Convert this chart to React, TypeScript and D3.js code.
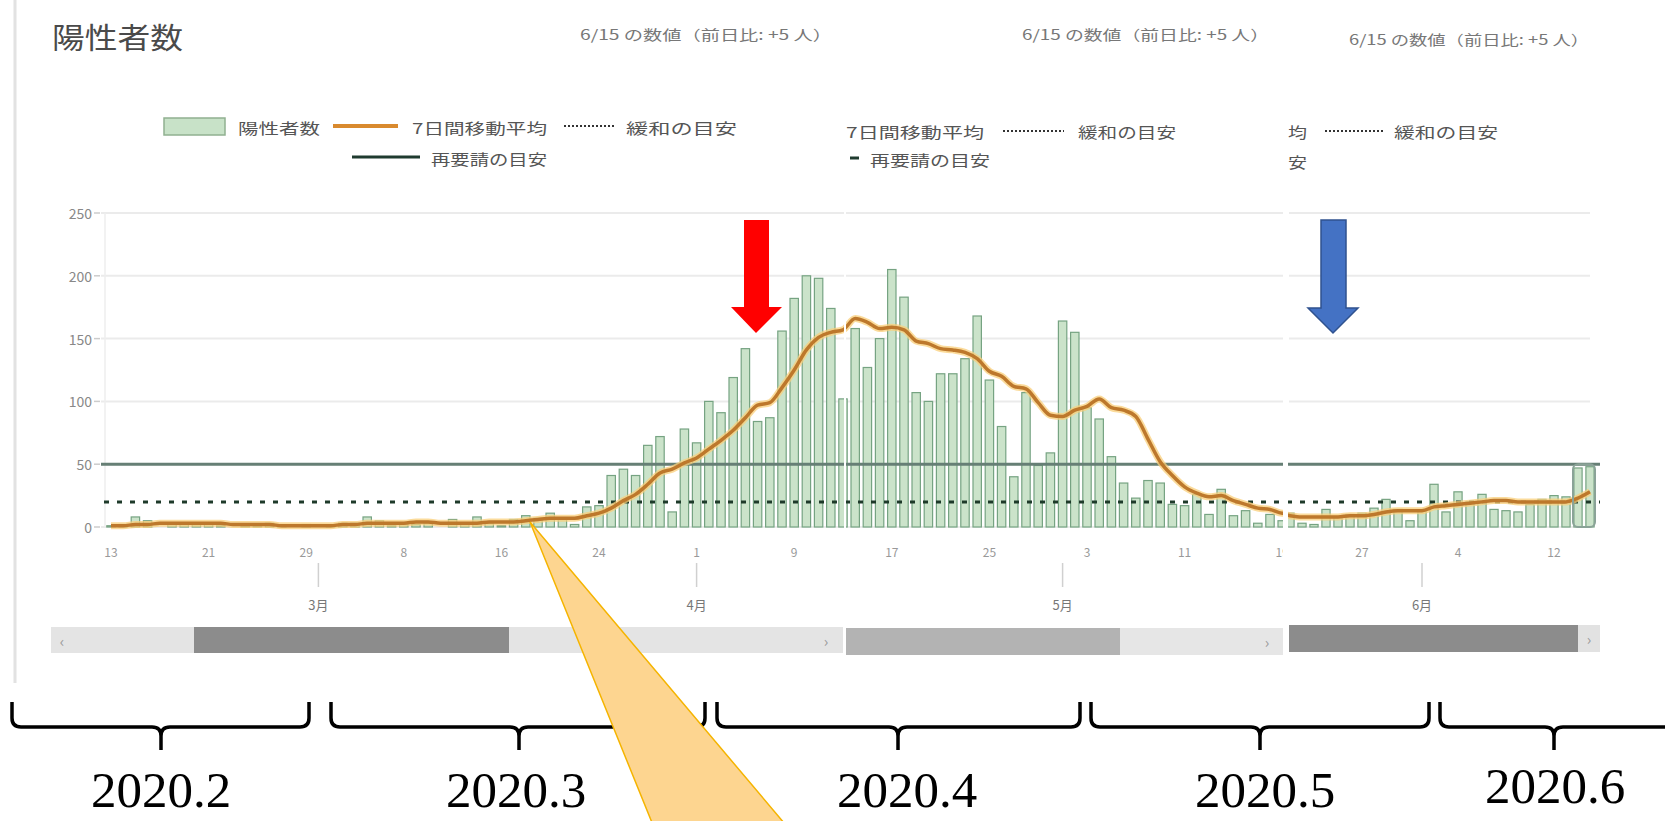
import React from "react";
import * as d3 from "d3";

// ---------- data ----------
const febCases = [1, 2, 8, 5, 0, 3, 3, 2, 3, 1, 0, 1, 1, 3, 1, 0, 2]; // Feb 13..29
const marCases = [0, 1, 3, 3, 8, 5, 1, 2, 2, 3, 0, 6, 2, 8, 3, 1, 6, 9, 7, 11, 7, 2, 16, 17, 41, 46, 41, 65, 72, 12, 78];
const aprCases = [67, 100, 91, 119, 142, 84, 87, 156, 182, 200, 198, 174, 102, 158, 127, 150, 205, 183, 107, 100, 122, 122, 134, 168, 117, 80, 40, 107, 49, 59];
const mayCases = [164, 155, 95, 86, 56, 35, 23, 37, 35, 18, 17, 26, 10, 30, 9, 13, 3, 10, 5, 5, 11, 3, 2, 14, 8, 10, 11, 15, 22, 14, 5];
const junCases = [13, 34, 12, 28, 20, 26, 14, 13, 12, 18, 22, 25, 24, 47, 48]; // Jun 1..15

const febMA = [1, 1, 2, 2, 3, 3, 3, 3, 3, 3, 2, 2, 2, 2, 1, 1, 1];
const marMA = [1, 1, 2, 2, 3, 3, 3, 3, 4, 4, 3, 3, 3, 3, 4, 4, 4, 5, 6, 7, 7, 7, 9, 11, 15, 21, 26, 34, 43, 46, 51];
const aprMA = [55, 62, 69, 77, 87, 97, 99, 111, 125, 141, 151, 155, 157, 166, 163, 158, 159, 157, 148, 146, 142, 141, 139, 134, 124, 120, 112, 110, 99, 89];
const mayMA = [88, 93, 96, 102, 95, 93, 88, 70, 52, 41, 32, 27, 24, 25, 21, 18, 15, 14, 11, 11, 9, 8, 8, 8, 8, 9, 9, 10, 12, 13, 13];
const junMA = [13, 16, 17, 18, 19, 20, 21, 21, 20, 20, 20, 20, 20, 23, 28];

const monthIndex = [1, 2, 3, 4, 5];
const monthFirstDay = [13, 1, 1, 1, 1];
const casesByMonth = [febCases, marCases, aprCases, mayCases, junCases];
const maByMonth = [febMA, marMA, aprMA, mayMA, junMA];

const yTicks = [0, 50, 100, 150, 200, 250];
const ticksA = ["2020-02-13", "2020-02-21", "2020-02-29", "2020-03-08", "2020-03-16", "2020-03-24", "2020-04-01", "2020-04-09", "2020-04-17", "2020-04-25", "2020-05-03", "2020-05-11", "2020-05-19"];
const ticksB = ["2020-05-27", "2020-06-04", "2020-06-12"];
const monthLabels = ["3月", "4月", "5月", "6月"];
const monthStartsA = ["2020-03-01", "2020-04-01", "2020-05-01"];
const monthStartsB = ["2020-06-01"];

const resumeLevel = 50; // 再要請の目安
const easeLevel = 20; // 緩和の目安

const title = "陽性者数";
const subtitle = "6/15 の数値（前日比: +5 人）";
const yearLabels = ["2020.2", "2020.3", "2020.4", "2020.5", "2020.6"];

// ---------- helpers ----------
type Row = { date: Date; cases: number; ma: number };
const rows: Row[] = monthIndex.flatMap((m, k) =>
  casesByMonth[k].map((c, i) => ({ date: new Date(2020, m, monthFirstDay[k] + i), cases: c, ma: maByMonth[k][i] }))
);
const parse = d3.timeParse("%Y-%m-%d");
const fmtDay = d3.timeFormat("%-d");

const y = d3.scaleLinear().domain([0, 250]).range([527, 213]);
const xA = d3.scaleTime().domain([new Date(2020, 1, 13), new Date(2020, 4, 19)]).range([111, 1282.2]);
const xB = d3.scaleTime().domain([new Date(2020, 4, 21), new Date(2020, 5, 15)]).range([1290, 1590]);

const rowsA = rows.filter((r) => r.date <= new Date(2020, 4, 21));
const rowsB = rows.filter((r) => r.date >= new Date(2020, 4, 19));

const JP = "'Noto Sans CJK JP', 'Noto Sans', sans-serif";
const SERIF = "'Liberation Serif', 'Times New Roman', serif";

const gridSegs: [number, number][] = [[101, 844], [846, 1283], [1289, 1590]];

function bracePath(x1: number, x2: number, xc: number) {
  const yTop = 702, yH = 727, yTip = 750, r = 9;
  return `M${x1},${yTop} L${x1},${yH - r} Q${x1},${yH} ${x1 + r},${yH} L${xc - r},${yH} Q${xc},${yH} ${xc},${yH + r} L${xc},${yTip} M${xc},${yH + r} Q${xc},${yH} ${xc + r},${yH} L${x2 - r},${yH} Q${x2},${yH} ${x2},${yH - r} L${x2},${yTop}`;
}

function Panel({ data, x, clip, barW }: { data: Row[]; x: d3.ScaleTime<number, number>; clip: string; barW: number }) {
  const line = d3.line<Row>().x((d) => x(d.date)).y((d) => y(d.ma)).curve(d3.curveMonotoneX);
  const p = line(data) || "";
  return (
    <g clipPath={`url(#${clip})`}>
      {data.map((d, i) => (
        <rect key={i} x={x(d.date) - barW / 2} y={y(d.cases)} width={barW} height={y(0) - y(d.cases)}
          fill="#cbe3ca" stroke="#76a382" strokeWidth={1.2} />
      ))}
      <line x1={0} x2={1665} y1={y(resumeLevel)} y2={y(resumeLevel)} stroke="#667f75" strokeWidth={3} />
      <line x1={0} x2={1665} y1={y(easeLevel)} y2={y(easeLevel)} stroke="#1e3a2a" strokeWidth={3} strokeDasharray="5 8" />
      <path d={p} fill="none" stroke="#f9cf7a" strokeWidth={7} strokeOpacity={0.75} strokeLinejoin="round" />
      <path d={p} fill="none" stroke="#bd782c" strokeWidth={3.5} strokeLinejoin="round" />
    </g>
  );
}

export default function App() {
  const braces: [number, number, number][] = [[12, 309, 161], [331, 705, 519], [717, 1080, 898], [1091, 1429, 1260], [1440, 1700, 1554]];
  const yearX = [161, 516, 907, 1265, 1555];
  const yearY = [807, 807, 807, 807, 803];
  return (
    <svg width={1665} height={821} style={{ position: "absolute", left: 0, top: 0, background: "#fff" }}>
      <defs>
        <clipPath id="clipA">
          <rect x={101} y={150} width={743} height={395} />
          <rect x={846} y={150} width={437} height={395} />
        </clipPath>
        <clipPath id="clipB">
          <rect x={1288} y={150} width={312} height={395} />
        </clipPath>
        <clipPath id="clipTickA">
          <rect x={0} y={530} width={1283} height={40} />
        </clipPath>
      </defs>
      <rect x={0} y={0} width={1665} height={821} fill="#fff" />
      <line x1={15} x2={15} y1={0} y2={683} stroke="#e2e2e2" strokeWidth={3} />

      {/* title & subtitles */}
      <text x={52} y={49} fontFamily={JP} fontSize={29} fill="#4a4a4a" textLength={131} lengthAdjust="spacingAndGlyphs">{title}</text>
      <text x={580} y={40} fontFamily={JP} fontSize={14} fill="#777" textLength={252} lengthAdjust="spacingAndGlyphs">{subtitle}</text>
      <text x={1022} y={40} fontFamily={JP} fontSize={14} fill="#777" textLength={247} lengthAdjust="spacingAndGlyphs">{subtitle}</text>
      <text x={1349} y={45} fontFamily={JP} fontSize={14} fill="#777" textLength={240} lengthAdjust="spacingAndGlyphs">{subtitle}</text>

      {/* legend 1 */}
      <g fontFamily={JP} fontSize={15} fill="#555" dominantBaseline="central">
        <rect x={164} y={118} width={61} height={17} fill="#c8e2c8" stroke="#90b090" strokeWidth={1.5} />
        <text x={238} y={127} textLength={82} lengthAdjust="spacingAndGlyphs">陽性者数</text>
        <line x1={333} x2={398} y1={126} y2={126} stroke="#d98a2e" strokeWidth={4} />
        <text x={412} y={127} textLength={135} lengthAdjust="spacingAndGlyphs">7日間移動平均</text>
        <line x1={564} x2={615} y1={126} y2={126} stroke="#333" strokeWidth={2} strokeDasharray="2 2" />
        <text x={626} y={127} textLength={111} lengthAdjust="spacingAndGlyphs">緩和の目安</text>
        <line x1={352} x2={420} y1={157} y2={157} stroke="#1f3b2f" strokeWidth={3} />
        <text x={431} y={158} textLength={116} lengthAdjust="spacingAndGlyphs">再要請の目安</text>
        {/* legend 2 */}
        <text x={846} y={131} textLength={138} lengthAdjust="spacingAndGlyphs">7日間移動平均</text>
        <line x1={1003} x2={1064} y1={131} y2={131} stroke="#333" strokeWidth={2} strokeDasharray="2 2" />
        <text x={1078} y={131} textLength={98} lengthAdjust="spacingAndGlyphs">緩和の目安</text>
        <line x1={850} x2={859} y1={158} y2={158} stroke="#1f3b2f" strokeWidth={3} />
        <text x={870} y={159} textLength={120} lengthAdjust="spacingAndGlyphs">再要請の目安</text>
        {/* legend 3 */}
        <text x={1288} y={131} textLength={19} lengthAdjust="spacingAndGlyphs">均</text>
        <line x1={1325} x2={1384} y1={131} y2={131} stroke="#333" strokeWidth={2} strokeDasharray="2 2" />
        <text x={1394} y={131} textLength={104} lengthAdjust="spacingAndGlyphs">緩和の目安</text>
        <text x={1288} y={161} textLength={19} lengthAdjust="spacingAndGlyphs">安</text>
      </g>

      {/* gridlines */}
      {yTicks.map((t) =>
        gridSegs.map((s, j) => (
          <line key={`${t}-${j}`} x1={s[0]} x2={s[1]} y1={y(t)} y2={y(t)} stroke="#ebebeb" strokeWidth={2} />
        ))
      )}
      <line x1={105} x2={105} y1={y(250)} y2={y(0)} stroke="#eeeeee" strokeWidth={1.5} />
      {yTicks.map((t) => (
        <g key={t}>
          <line x1={94} x2={100} y1={y(t)} y2={y(t)} stroke="#ccc" strokeWidth={1.5} />
          <text x={92} y={y(t)} textAnchor="end" dominantBaseline="central" fontFamily={JP} fontSize={14} fill="#888">{t}</text>
        </g>
      ))}

      <Panel data={rowsA} x={xA} clip="clipA" barW={8.4} />
      <Panel data={rowsB} x={xB} clip="clipB" barW={8.2} />
      <rect x={1573} y={y(resumeLevel)} width={22} height={y(0) - y(resumeLevel)} rx={5} fill="none" stroke="#8aa397" strokeWidth={2} />

      {/* x ticks */}
      <g clipPath="url(#clipTickA)">
        {ticksA.map((t) => (
          <text key={t} x={xA(parse(t)!)} y={557} textAnchor="middle" fontFamily={JP} fontSize={12} fill="#999">{fmtDay(parse(t)!)}</text>
        ))}
      </g>
      {ticksB.map((t) => (
        <text key={t} x={xB(parse(t)!)} y={557} textAnchor="middle" fontFamily={JP} fontSize={12} fill="#999">{fmtDay(parse(t)!)}</text>
      ))}
      {[...monthStartsA.map((m) => xA(parse(m)!)), ...monthStartsB.map((m) => xB(parse(m)!))].map((mx, i) => (
        <g key={i}>
          <line x1={mx} x2={mx} y1={563} y2={587} stroke="#d0d0d0" strokeWidth={1.5} />
          <text x={mx} y={610} textAnchor="middle" fontFamily={JP} fontSize={13} fill="#777">{monthLabels[i]}</text>
        </g>
      ))}

      {/* scrollbars */}
      <g fontFamily={JP} fontSize={15} fill="#999">
        <rect x={51} y={627} width={792} height={26} fill="#e4e4e4" />
        <rect x={194} y={627} width={315} height={26} fill="#8c8c8c" />
        <text x={62} y={640} textAnchor="middle" dominantBaseline="central">‹</text>
        <text x={826} y={640} textAnchor="middle" dominantBaseline="central">›</text>
        <rect x={846} y={628} width={437} height={27} fill="#e6e6e6" />
        <rect x={846} y={628} width={274} height={27} fill="#b3b3b3" />
        <text x={1267} y={641} textAnchor="middle" dominantBaseline="central">›</text>
        <rect x={1289} y={625} width={289} height={27} fill="#8c8c8c" />
        <rect x={1578} y={625} width={22} height={27} fill="#e2e2e2" />
        <text x={1589} y={638} textAnchor="middle" dominantBaseline="central">›</text>
      </g>

      {/* arrows */}
      <polygon points="744,220 769,220 769,307 782,307 756,333 731,307 744,307" fill="#ff0000" />
      <polygon points="1321,220 1346,220 1346,308 1358,308 1333,333 1308,308 1321,308" fill="#4472c4" stroke="#2f528f" strokeWidth={1.5} />

      {/* braces and years */}
      {braces.map((b, i) => (
        <path key={i} d={bracePath(b[0], b[1], b[2])} fill="none" stroke="#000" strokeWidth={3.5} />
      ))}
      {yearLabels.map((t, i) => (
        <text key={t} x={yearX[i]} y={yearY[i]} textAnchor="middle" fontFamily={SERIF} fontSize={51} fill="#000">{t}</text>
      ))}

      {/* callout */}
      <polygon points="530,522 655,830 790,830" fill="#fdd590" stroke="#f5b400" strokeWidth={1.5} />
    </svg>
  );
}
